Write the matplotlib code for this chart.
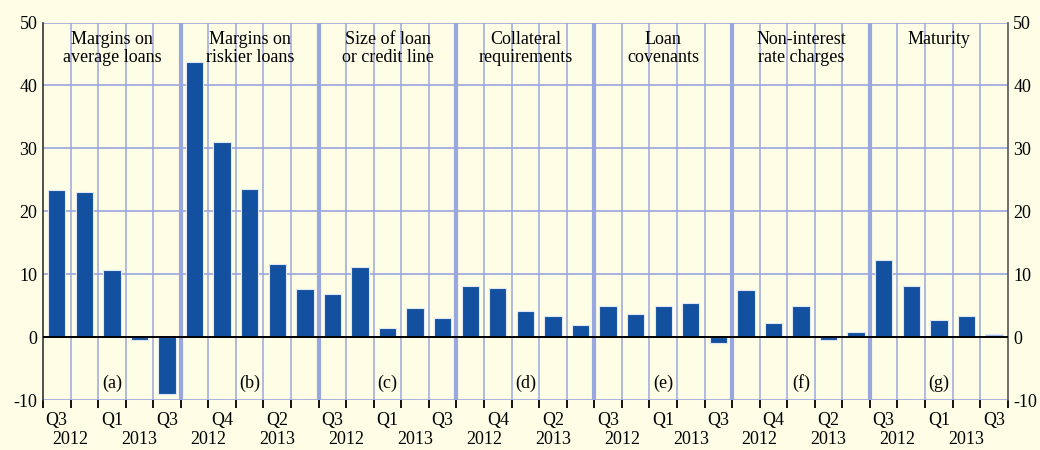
import matplotlib
matplotlib.use("Agg")
import matplotlib.pyplot as plt
import numpy as np

groups = ["Margins on\naverage loans", "Margins on\nriskier loans", "Size of loan\nor credit line",
          "Collateral\nrequirements", "Loan\ncovenants", "Non-interest\nrate charges", "Maturity"]
letters = ["(a)", "(b)", "(c)", "(d)", "(e)", "(f)", "(g)"]
quarters = ["Q3", "Q4", "Q1", "Q2", "Q3"]
years = ["2012", "2013"]
values = [
    [23.4, 23.0, 10.6, -0.5, -9.1],
    [43.8, 31.0, 23.5, 11.7, 7.7],
    [6.9, 11.2, 1.4, 4.7, 3.1],
    [8.1, 7.8, 4.2, 3.4, 1.9],
    [4.9, 3.6, 4.9, 5.5, -1.0],
    [7.5, 2.2, 5.0, -0.4, 0.85],
    [12.2, 8.1, 2.8, 3.4, 0.55],
]
yticks = [-10, 0, 10, 20, 30, 40, 50]

BG = "#fefde6"
GRID = "#9aa6de"
BAR = "#13509f"
BAR_LIGHT = "#9fb8e2"
SERIF = ["Liberation Serif", "DejaVu Serif"]
FS = 13

fig = plt.figure(figsize=(10.4, 4.5), dpi=100, facecolor=BG)
ax = fig.add_axes([0.0413, 0.111, 0.9277, 0.839])
ax.set_facecolor(BG)

ng = len(groups)
nq = len(quarters)
n = ng * nq
ax.set_xlim(0, n)
ax.set_ylim(-10, 50)

# grid
for y in yticks:
    ax.axhline(y, color=GRID, lw=1.2, zorder=1)
for b in range(1, n):
    if b % nq == 0:
        ax.axvline(b, color=GRID, lw=3, zorder=1)
    else:
        ax.axvline(b, color=GRID, lw=1.1, zorder=1)

# bars
for g, vals in enumerate(values):
    xs = g * nq + np.arange(nq) + 0.5
    cols = [BAR] * nq
    if g == ng - 1:
        cols[-1] = BAR_LIGHT
    ax.bar(xs, vals, width=0.63, color=cols, edgecolor="#dfe6f5", linewidth=0.8, zorder=3)

ax.axhline(0, color="black", lw=1.4, zorder=4)

# group titles and letters
for g in range(ng):
    cx = g * nq + nq / 2
    ax.text(cx, 48.6, groups[g], ha="center", va="top", fontsize=FS, family=SERIF,
            linespacing=1.05, zorder=5)
    ax.text(cx, -7.3, letters[g], ha="center", va="center", fontsize=FS, family=SERIF, zorder=5)

# spines
ax.spines["top"].set_visible(False)
ax.spines["bottom"].set_visible(False)
ax.spines["left"].set_color("#333333")
ax.spines["right"].set_color("#555555")
ax.spines["left"].set_linewidth(1.2)
ax.spines["right"].set_linewidth(1.2)

ax.set_yticks(yticks)
ax.set_yticklabels([str(v) for v in yticks], family=SERIF, fontsize=FS)
ax.tick_params(axis="y", length=0, pad=4, labelright=True, right=False)

# x ticks at slot boundaries
ax.set_xticks(np.arange(0, n + 1))
ax.set_xticklabels([])
ax.tick_params(axis="x", length=6, width=1.4, color="#111111", direction="out")

# quarter and year labels
trans = ax.get_xaxis_transform()
for k in range(n):
    if k % 2 == 0:
        ax.text(k + 0.5, -0.055, quarters[k % nq], transform=trans, ha="center", va="center",
                fontsize=FS, family=SERIF)
for g in range(ng):
    base = g * nq
    ax.text(base + 1.0, -0.105, years[0], transform=trans, ha="center", va="center",
            fontsize=FS, family=SERIF)
    ax.text(base + 3.5, -0.105, years[1], transform=trans, ha="center", va="center",
            fontsize=FS, family=SERIF)

fig.savefig("out.png", dpi=100, facecolor=BG)
